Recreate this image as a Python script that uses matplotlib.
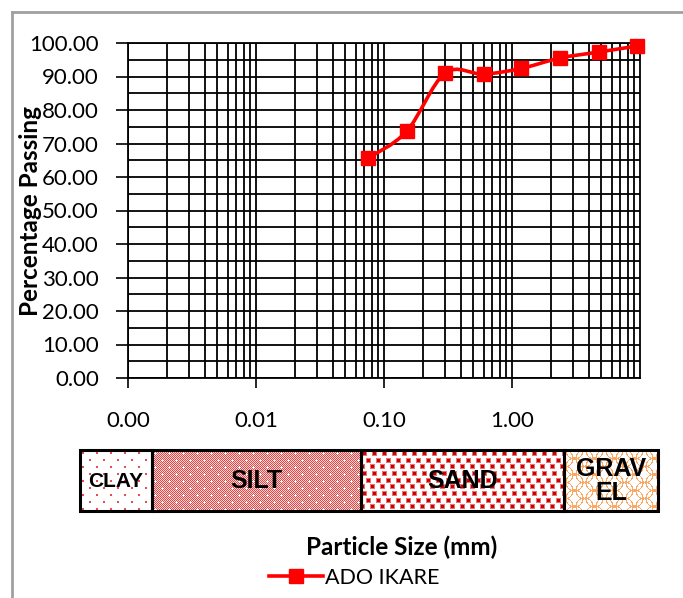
import numpy as np
import matplotlib
matplotlib.use("Agg")
import matplotlib.pyplot as plt
from matplotlib.path import Path
from matplotlib.patches import PathPatch, Rectangle
from matplotlib.lines import Line2D

# ---- data ----
sieve_mm = [0.075, 0.15, 0.3, 0.6, 1.18, 2.36, 4.75, 9.5]
passing = [65.6, 73.6, 91.0, 90.7, 92.4, 95.5, 97.3, 99.1]
series_name = "ADO IKARE"
x_ticks = [0.001, 0.01, 0.1, 1]
x_tick_labels = ["0.00", "0.01", "0.10", "1.00"]
y_ticks = [0, 10, 20, 30, 40, 50, 60, 70, 80, 90, 100]
soil_classes = ["CLAY", "SILT", "SAND", "GRAV\nEL"]

W, H = 683, 598
fig = plt.figure(figsize=(W / 100, H / 100), dpi=100)
FONT = "Lato"

def fx(px):
    return px / W

def fy(py):
    return 1 - py / H

# main axes
L, R, T, B = 128, 640, 43, 378
ax = fig.add_axes([fx(L), fy(B), fx(R) - fx(L), fy(T) - fy(B)])
ax.set_xscale("log")
ax.set_xlim(0.001, 10)
ax.set_ylim(0, 100)

ax.set_yticks(y_ticks)
ax.set_yticklabels([f"{v:.2f}" for v in y_ticks], fontfamily=FONT, fontsize=16)
ax.set_yticks(np.arange(5, 100, 10), minor=True)
ax.set_xticks(x_ticks)
ax.set_xticklabels(x_tick_labels, fontfamily=FONT, fontsize=16)
ax.xaxis.set_minor_locator(matplotlib.ticker.LogLocator(base=10, subs=np.arange(2, 10)))
ax.xaxis.set_minor_formatter(matplotlib.ticker.NullFormatter())

ax.tick_params(axis="y", which="major", direction="out", length=9, width=1.2, color="black", pad=12)
ax.tick_params(axis="y", which="minor", length=0)
ax.tick_params(axis="x", which="major", direction="out", length=7, width=1.2, color="black", pad=17)
ax.tick_params(axis="x", which="minor", length=0)

ax.grid(True, which="both", axis="both", color="black", linewidth=1.3)
for s in ax.spines.values():
    s.set_color("black")
    s.set_linewidth(1.3)

ax.set_ylabel("Percentage Passing", fontfamily=FONT, fontweight="bold", fontsize=17.5)
ax.yaxis.set_label_coords(-0.168, 0.5)

# smooth curve (Excel-style smoothed line) through the points
lx = np.log10(sieve_mm)
py = np.array(passing, dtype=float)
pts = np.column_stack([lx, py])
verts = [pts[0]]
codes = [Path.MOVETO]
n = len(pts)
for i in range(n - 1):
    p0 = pts[i - 1] if i > 0 else pts[i]
    p1 = pts[i]
    p2 = pts[i + 1]
    p3 = pts[i + 2] if i + 2 < n else pts[i + 1]
    c1 = p1 + (p2 - p0) / 6
    c2 = p2 - (p3 - p1) / 6
    verts += [c1, c2, p2]
    codes += [Path.CURVE4] * 3
verts = np.array(verts)
verts[:, 0] = 10 ** verts[:, 0]
curve = PathPatch(Path(verts, codes), facecolor="none", edgecolor="#ff0000", lw=2.6,
                  transform=ax.transData, zorder=4, clip_on=False)
ax.add_patch(curve)
ax.plot(sieve_mm, passing, linestyle="none", marker="s", markersize=10,
        color="#ff0000", zorder=5, clip_on=False)

# x label & legend
fig.text(fx(402), fy(547), "Particle Size (mm)", ha="center", va="center",
         fontfamily=FONT, fontweight="bold", fontsize=17.5)
handle = Line2D([], [], color="#ff0000", lw=2.6, marker="s", markersize=10)
fig.legend([handle], [series_name], loc="center", bbox_to_anchor=(fx(354), fy(578)),
           frameon=False, prop={"family": FONT, "size": 15.5}, handlelength=2.5,
           handletextpad=0.1, borderaxespad=0)

# overlay axes in pixel coordinates for frame + soil band
ov = fig.add_axes([0, 0, 1, 1], zorder=-1)
ov.set_xlim(0, W)
ov.set_ylim(H, 0)
ov.axis("off")
ov.plot([12, 12], [12, H], color="#a0a0a0", lw=2)
ov.plot([12, W], [12, 12], color="#a0a0a0", lw=2)

# textures
def tile_clay():
    t = np.ones((14, 14, 3))
    red = np.array([0.90, 0.30, 0.30])
    for (r, c) in [(2, 2), (9, 9)]:
        t[r:r + 2, c:c + 2] = red
    return t

def tile_silt():
    t = np.zeros((14, 14, 3))
    a = np.array([0.88, 0.28, 0.28])
    b = np.array([1.0, 0.84, 0.84])
    for r in range(14):
        for c in range(14):
            t[r, c] = a if (r + c) % 2 == 0 else b
    w = np.array([1.0, 1.0, 1.0])
    for (r, c) in [(3, 3), (10, 10)]:
        t[r, c - 1:c + 2] = w
        t[r - 1:r + 2, c] = w
    return t

def tile_sand():
    n = 20
    t = np.ones((n, n, 3))
    edge = np.array([0.92, 0.45, 0.45])
    core = np.array([0.80, 0.0, 0.0])
    for (r, c) in [(1, 1), (1, 11), (8, 5), (8, 15), (14, 9), (14, 19)]:
        for dr in range(5):
            for dc in range(5):
                rr, cc = (r + dr) % n, (c + dc) % n
                inner = 0 < dr < 4 and 0 < dc < 4
                t[rr, cc] = core if inner else edge
    return t

def tile_gravel():
    h, w = 16, 20
    t = np.ones((h, w, 3))
    orange = np.array([0.98, 0.66, 0.40])
    yy, xx = np.mgrid[0:h, 0:w]
    for cx, cy in [(w / 2, 0), (0, h / 2), (w, h / 2), (w / 2, h)]:
        d = np.sqrt((xx - cx) ** 2 + (yy - cy) ** 2)
        m = np.abs(d - 8.5) < 0.6
        t[m] = orange
    return t

def tiled(tile, wpx, hpx):
    th, tw, _ = tile.shape
    ny = int(np.ceil(hpx / th)) + 1
    nx = int(np.ceil(wpx / tw)) + 1
    big = np.tile(tile, (ny, nx, 1))
    return big[:int(hpx), :int(wpx)]

band_top, band_bot = 450, 511
edges = [80, 152, 361, 564, 658]
tiles = [tile_clay(), tile_silt(), tile_sand(), tile_gravel()]
sizes = [15, 18, 18, 18]
for i in range(4):
    x0, x1 = edges[i], edges[i + 1]
    img = tiled(tiles[i], x1 - x0, band_bot - band_top)
    ov.imshow(img, extent=[x0, x1, band_bot, band_top], interpolation="nearest", aspect="auto")
    ov.add_patch(Rectangle((x0, band_top), x1 - x0, band_bot - band_top,
                           facecolor="none", edgecolor="black", lw=2.2))
    ov.text((x0 + x1) / 2, (band_top + band_bot) / 2 + 1, soil_classes[i], ha="center", va="center",
            fontfamily="Liberation Sans", fontweight="bold", fontsize=sizes[i], linespacing=1.0)
ov.set_xlim(0, W)
ov.set_ylim(H, 0)

fig.savefig("out.png", dpi=100)
